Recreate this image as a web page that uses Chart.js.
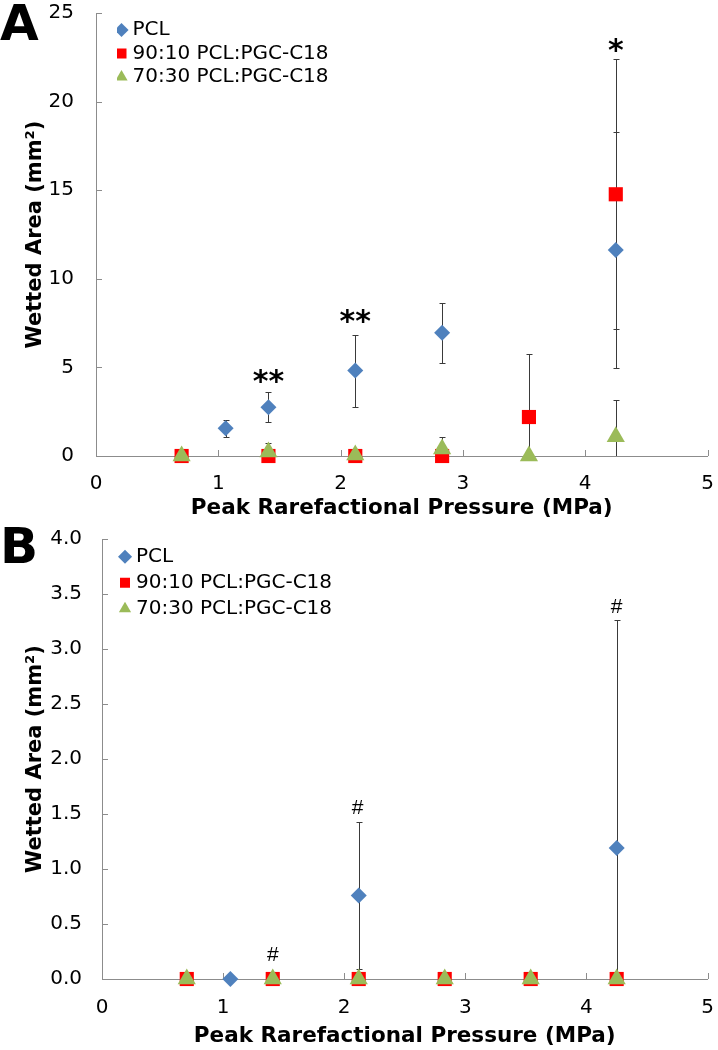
<!DOCTYPE html>
<html>
<head>
<meta charset="utf-8">
<script src="https://cdn.jsdelivr.net/npm/chart.js@4.4.1/dist/chart.umd.min.js"></script>
<style>
  html, body { margin: 0; padding: 0; background: #fff; overflow: hidden; }
  #wrap { position: relative; width: 718px; height: 1050px; overflow: hidden; }
  .panel { position: absolute; left: 0; width: 718px; height: 525px; }
  .letter { position: absolute; left: 0; font: bold 50px 'DejaVu Sans', sans-serif; line-height: 50px; color: #000; }
</style>
</head>
<body>
<div id="wrap">
  <div class="panel" style="top:0"><canvas id="chartA"></canvas></div>
  <div class="panel" style="top:525px"><canvas id="chartB"></canvas></div>
  <div class="letter" style="top:-2px">A</div>
  <div class="letter" style="top:521px">B</div>
</div>
<script>
// ===== DATA =====
const seriesNames = ['PCL', '90:10 PCL:PGC-C18', '70:30 PCL:PGC-C18'];
const xTicks = [0, 1, 2, 3, 4, 5];

// panel A
const pclPressureA = [1.06, 1.41, 2.12, 2.83, 4.25];
const pclAreaA     = [1.56, 2.75, 4.82, 6.96, 11.63];
const pclErrA      = [0.47, 0.85, 2.03, 1.70, 6.65];
const blendPressure = [0.70, 1.41, 2.12, 2.83, 3.54, 4.25];
const pgc90AreaA = [0, 0, 0, 0, 2.20, 14.77];
const pgc90ErrA  = [0, 0, 0, 0, 3.55, 7.62];
const pgc70AreaA = [0, 0.22, 0.06, 0.40, 0, 1.09];
const pgc70ErrA  = [0, 0.52, 0, 0.67, 0, 2.07];
const yTicksA = [0, 5, 10, 15, 20, 25];
const marksA = ['**', '**', '*'];
const markXA = [1.41, 2.12, 4.25];
const markYA = [4.47, 7.9, 23.15];

// panel B
const pclPressureB = [1.06, 2.12, 4.25];
const pclAreaB     = [0, 0.76, 1.19];
const pclErrB      = [0, 0.67, 2.07];
const pgc90AreaB = [0, 0, 0, 0, 0, 0];
const pgc70AreaB = [0, 0, 0, 0, 0, 0];
const yTicksB = [0, 0.5, 1, 1.5, 2, 2.5, 3, 3.5, 4];
const marksB = ['#', '#', '#'];
const markXB = [1.41, 2.11, 4.25];
const markYB = [0.23, 1.56, 3.39];

const axisGrey = '#8c8c8c';
const font = 'DejaVu Sans';
const toPts = (xs, ys) => xs.map((x, i) => ({ x: x, y: ys[i] }));

// ===== PLUGINS =====
const errorBars = {
    id: 'errorBars',
    beforeDatasetsDraw(chart) {
        const { ctx, chartArea, scales: { x, y } } = chart;
        ctx.save();
        ctx.beginPath();
        ctx.rect(chartArea.left, chartArea.top - 2, chartArea.width, chartArea.height + 2);
        ctx.clip();
        ctx.strokeStyle = '#3a3a3a';
        ctx.lineWidth = 1;
        chart.data.datasets.forEach(ds => {
            if (!ds.errors) return;
            ds.data.forEach((p, i) => {
                const e = ds.errors[i];
                if (!e) return;
                const px = Math.round(x.getPixelForValue(p.x)) + 0.5;
                const top = Math.round(y.getPixelForValue(p.y + e)) + 0.5;
                const bot = Math.round(y.getPixelForValue(p.y - e)) + 0.5;
                ctx.beginPath();
                ctx.moveTo(px, top); ctx.lineTo(px, bot);
                ctx.moveTo(px - 3, top); ctx.lineTo(px + 3, top);
                ctx.moveTo(px - 3, bot); ctx.lineTo(px + 3, bot);
                ctx.stroke();
            });
        });
        ctx.restore();
    }
};

// Excel-style tick marks pointing into the plot
const innerTicks = {
    id: 'innerTicks',
    beforeDatasetsDraw(chart) {
        const { ctx, chartArea, scales: { x, y } } = chart;
        ctx.save();
        ctx.strokeStyle = axisGrey;
        ctx.lineWidth = 1;
        ctx.beginPath();
        x.ticks.forEach(t => {
            const px = Math.round(x.getPixelForValue(t.value)) + 0.5;
            ctx.moveTo(px, chartArea.bottom); ctx.lineTo(px, chartArea.bottom - 6);
        });
        y.ticks.forEach(t => {
            const py = Math.round(y.getPixelForValue(t.value)) + 0.5;
            ctx.moveTo(chartArea.left, py); ctx.lineTo(chartArea.left + 6, py);
        });
        ctx.stroke();
        ctx.restore();
    }
};

// significance marks (*, #)
const sigMarks = {
    id: 'sigMarks',
    afterDatasetsDraw(chart, args, opts) {
        const { ctx, scales: { x, y } } = chart;
        ctx.save();
        ctx.fillStyle = '#000';
        ctx.font = opts.font;
        ctx.textAlign = 'center';
        ctx.textBaseline = 'alphabetic';
        opts.text.forEach((t, i) => {
            const m = ctx.measureText(t);
            const cy = y.getPixelForValue(opts.y[i]);
            ctx.fillText(t, x.getPixelForValue(opts.x[i]), cy + (m.actualBoundingBoxAscent - m.actualBoundingBoxDescent) / 2);
        });
        ctx.restore();
    }
};

// move the in-plot legend away from the axis corner
const legendNudge = {
    id: 'legendNudge',
    afterLayout(chart, args, opts) {
        const lg = chart.legend;
        if (!lg) return;
        lg.left += opts.dx; lg.right += opts.dx;
        lg.top += opts.dy; lg.bottom += opts.dy;
    }
};

function makeChart(id, cfg) {
    const datasets = [
        { label: seriesNames[0], data: toPts(cfg.pclX, cfg.pcl), errors: cfg.pclErr, pointStyle: 'rectRot', pointRadius: 8,
          backgroundColor: '#4f81bd', borderColor: '#4f81bd', pointBorderWidth: 0, order: 3, clip: false },
        { label: seriesNames[1], data: toPts(blendPressure, cfg.p90), errors: cfg.p90Err, pointStyle: 'rect', pointRadius: 10,
          backgroundColor: '#ff0000', borderColor: '#ff0000', pointBorderWidth: 0, order: 2, clip: false },
        { label: seriesNames[2], data: toPts(blendPressure, cfg.p70), errors: cfg.p70Err, pointStyle: 'triangle', pointRadius: 10.5,
          backgroundColor: '#9bbb59', borderColor: '#9bbb59', pointBorderWidth: 0, order: 1, clip: false }
    ];
    return new Chart(document.getElementById(id), {
        type: 'scatter',
        data: { datasets },
        plugins: [errorBars, innerTicks, sigMarks, legendNudge],
        options: {
            responsive: true,
            maintainAspectRatio: false,
            animation: false,
            layout: { padding: cfg.padding },
            plugins: {
                tooltip: { enabled: false },
                legend: {
                    position: 'chartArea',
                    align: 'start',
                    labels: {
                        usePointStyle: true, boxWidth: 2, boxHeight: 10, padding: cfg.legendPad,
                        color: '#000', font: { family: font, size: 20 },
                        sort: (a, b) => a.datasetIndex - b.datasetIndex
                    }
                },
                sigMarks: { text: cfg.marks, x: cfg.markX, y: cfg.markY, font: cfg.markFont },
                legendNudge: cfg.nudge
            },
            scales: {
                x: {
                    type: 'linear', min: 0, max: 5,
                    afterBuildTicks: s => { s.ticks = xTicks.map(v => ({ value: v })); },
                    ticks: { color: '#000', font: { family: font, size: 20 }, padding: cfg.xTickPad },
                    grid: { drawOnChartArea: false, drawTicks: false },
                    border: { color: axisGrey },
                    title: { display: true, text: 'Peak Rarefactional Pressure (MPa)', color: '#000',
                             font: { family: font, size: 21.5, weight: 'bold' }, padding: { top: 0, bottom: cfg.xTitlePad } },
                    afterFit: s => { s.height = cfg.xAxisH; s.paddingLeft = 0; s.paddingRight = 0; }
                },
                y: {
                    type: 'linear', min: cfg.yTicks[0], max: cfg.yTicks[cfg.yTicks.length - 1],
                    afterBuildTicks: s => { s.ticks = cfg.yTicks.map(v => ({ value: v })); },
                    ticks: { color: '#000', font: { family: font, size: 20 }, padding: cfg.yTickPad, callback: cfg.yFmt },
                    grid: { drawOnChartArea: false, drawTicks: false },
                    border: { color: axisGrey },
                    title: { display: true, text: 'Wetted Area (mm²)', color: '#000',
                             font: { family: font, size: 21, weight: 'bold' }, padding: { top: 23, bottom: 0 } },
                    afterFit: s => { s.width = cfg.yAxisW; s.paddingTop = 0; s.paddingBottom = 0; }
                }
            }
        }
    });
}

makeChart('chartA', {
    pclX: pclPressureA, pcl: pclAreaA, pclErr: pclErrA,
    p90: pgc90AreaA, p90Err: pgc90ErrA, p70: pgc70AreaA, p70Err: pgc70ErrA,
    yTicks: yTicksA, yFmt: v => v,
    marks: marksA, markX: markXA, markY: markYA, markFont: 'bold 30px "DejaVu Sans"',
    padding: { top: 13, right: 7, left: 0, bottom: 0 },
    yAxisW: 96, xAxisH: 69, yTickPad: 22, xTickPad: 16, xTitlePad: 4,
    legendPad: 3.5, nudge: { dx: 21, dy: 16.5 }
});

makeChart('chartB', {
    pclX: pclPressureB, pcl: pclAreaB, pclErr: pclErrB,
    p90: pgc90AreaB, p90Err: null, p70: pgc70AreaB, p70Err: null,
    yTicks: yTicksB, yFmt: v => v.toFixed(1),
    marks: marksB, markX: markXB, markY: markYB, markFont: '21px "Liberation Sans"',
    padding: { top: 14, right: 8, left: 0, bottom: 0 },
    yAxisW: 102, xAxisH: 71, yTickPad: 20, xTickPad: 17, xTitlePad: 1,
    legendPad: 6, nudge: { dx: 16, dy: 15.7 }
});
</script>
</body>
</html>
